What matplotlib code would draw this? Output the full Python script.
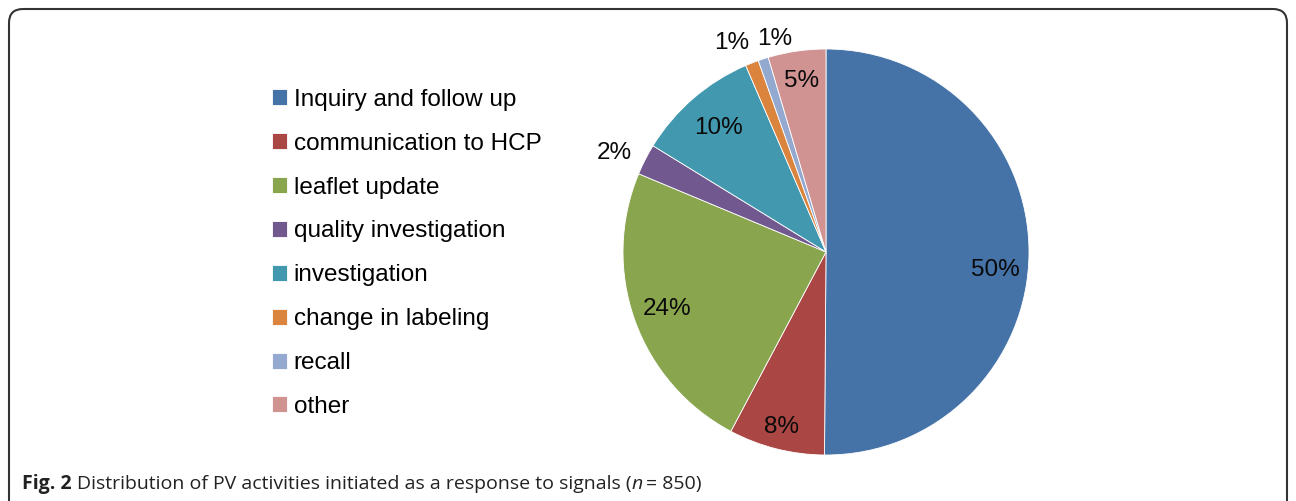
import numpy as np
import matplotlib
matplotlib.use("Agg")
import matplotlib.pyplot as plt
from matplotlib.patches import FancyBboxPatch

# PV activities, clockwise from 12 o'clock (counts, n = 850)
labels = ['Inquiry and follow up', 'communication to HCP', 'leaflet update',
          'quality investigation', 'investigation', 'change in labeling',
          'recall', 'other']
counts = [426, 65, 200, 21, 83, 9, 7, 39]
colors = ['#4572A7', '#AA4643', '#89A54E', '#71588F',
          '#4198AF', '#DB843D', '#93A9CF', '#D19392']
# label placement: radial distance and angular nudge (deg)
label_dist = [0.84, 0.89, 0.83, 1.15, 0.81, 1.13, 1.08, 0.85]
label_nudge = [-6, 0, 0, 2, 0, 3, -4.5, 0]

W, H = 1296, 501
plt.rcParams['font.family'] = ['Liberation Sans', 'DejaVu Sans']
fig = plt.figure(figsize=(W / 100, H / 100), dpi=100)

# background axes in pixel units for the frame and caption
bg = fig.add_axes([0, 0, 1, 1])
bg.set_xlim(0, W)
bg.set_ylim(H, 0)
bg.axis('off')
frame = FancyBboxPatch((9, 9), W - 18, H + 40,
                       boxstyle='round,pad=0,rounding_size=14',
                       fc='none', ec='#333333', lw=1.5)
bg.add_patch(frame)

cx, cy, r = 826, 252, 203
ax = fig.add_axes([(cx - r) / W, (H - cy - r) / H, 2 * r / W, 2 * r / H])
wedges, _ = ax.pie(counts, colors=colors, startangle=90, counterclock=False,
                   wedgeprops=dict(edgecolor='white', linewidth=0.6))
ax.set_xlim(-1, 1)
ax.set_ylim(-1, 1)
ax.set_aspect('equal')

total = sum(counts)
for w, c, d, nd in zip(wedges, counts, label_dist, label_nudge):
    ang = np.deg2rad((w.theta1 + w.theta2) / 2 + nd)
    ax.text(d * np.cos(ang), d * np.sin(ang), '%.0f%%' % (100 * c / total),
            ha='center', va='center', fontsize=17.5, color='#0a0a0a')

leg = fig.legend(wedges, labels, loc='upper left',
                 bbox_to_anchor=(250 / W, 1 - 67 / H), frameon=False,
                 fontsize=17.5, handlelength=0.64, handleheight=0.64,
                 handletextpad=0.25, labelspacing=0.9)

# caption
base = 489
t1 = bg.text(22, base, 'Fig. 2', fontsize=14, fontweight='bold',
             family='Open Sans', color='#222222', va='baseline')
fig.canvas.draw()
bb = t1.get_window_extent()
t2 = bg.text(bb.x1 + 5, base,
             'Distribution of PV activities initiated as a response to signals (',
             fontsize=14, family='Open Sans', color='#222222', va='baseline')
fig.canvas.draw()
bb = t2.get_window_extent()
t3 = bg.text(bb.x1, base, 'n', fontsize=14, family='Open Sans',
             style='italic', color='#222222', va='baseline')
fig.canvas.draw()
bb = t3.get_window_extent()
bg.text(bb.x1 + 3, base, '= 850)', fontsize=14, family='Open Sans',
        color='#222222', va='baseline')

fig.savefig('out.png', dpi=100)
